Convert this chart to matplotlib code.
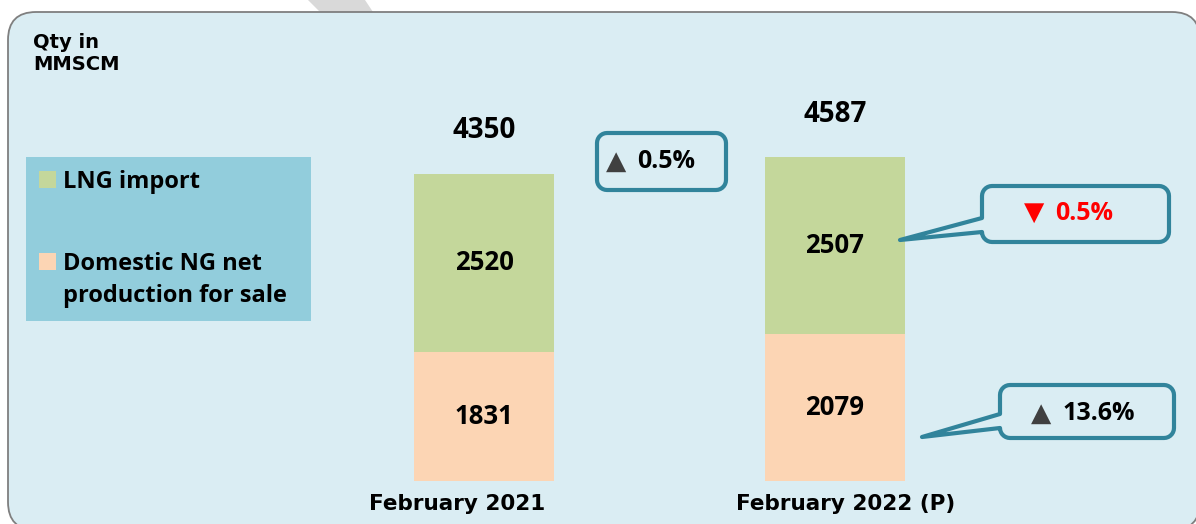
import numpy as np
import matplotlib
matplotlib.use("Agg")
import matplotlib.pyplot as plt
from matplotlib.patches import FancyBboxPatch, PathPatch, Polygon, Rectangle
from matplotlib.path import Path
from matplotlib.transforms import Affine2D

# ---------------- data ----------------
categories = ["February 2021", "February 2022 (P)"]
domestic = [1831, 2079]
lng = [2520, 2507]
totals = [4350, 4587]
series_names = ["LNG import", "Domestic NG net\nproduction for sale"]
changes = ["0.5%", "0.5%", "13.6%"]          # total, LNG, domestic
change_dir = ["up", "down", "up"]
unit_label = "Qty in\nMMSCM"

# ---------------- style ----------------
W, H = 1196, 524
GREEN = "#C4D79B"
PEACH = "#FCD5B4"
PANEL = "#DAEDF3"
LEGBG = "#92CDDC"
TEAL = "#31849B"
NUMFONT = ["Open Sans", "DejaVu Sans"]
CATFONT = ["DejaVu Sans"]

fig = plt.figure(figsize=(W / 100, H / 100), dpi=100)
fig.patch.set_facecolor("white")
px = Affine2D().scale(1 / W, -1 / H).translate(0, 1) + fig.transFigure

# decorative grey band at top
fig.patches.append(Polygon([(308, 0), (365, 0), (373, 12), (320, 12)], closed=True,
                           transform=px, facecolor="#D9D9D9", edgecolor="none", zorder=0))
# rounded panel
fig.patches.append(FancyBboxPatch((8, 12), 1192, 518, boxstyle="round,pad=0,rounding_size=28",
                                  transform=px, facecolor=PANEL, edgecolor="#7F7F7F",
                                  linewidth=1.3, zorder=1))

ax = fig.add_axes([0, 0, 1, 1])
ax.set_zorder(2)
ax.patch.set_alpha(0)
ax.set_xlim(-1.379, 2.0285)
ax.set_ylim(-609, 6813)
ax.axis("off")

x = np.arange(len(categories))
bw = 0.4
ax.bar(x, domestic, width=bw, color=PEACH, zorder=3)
ax.bar(x, lng, width=bw, bottom=domestic, color=GREEN, zorder=3)

for i in range(len(categories)):
    ax.text(x[i], domestic[i] / 2, f"{domestic[i]}", ha="center", va="center",
            fontsize=18.5, fontweight="bold", family=NUMFONT, zorder=4)
    ax.text(x[i], domestic[i] + lng[i] / 2, f"{lng[i]}", ha="center", va="center",
            fontsize=18.5, fontweight="bold", family=NUMFONT, zorder=4)
    ax.annotate(f"{totals[i]}", (x[i], domestic[i] + lng[i]), xytext=(0, 31),
                textcoords="offset points", ha="center", va="center",
                fontsize=20, fontweight="bold", family=NUMFONT, zorder=4)

cat_offsets = [-0.077, 0.031]
for i, c in enumerate(categories):
    ax.text(x[i] + cat_offsets[i], -330, c, ha="center", va="center",
            fontsize=15.5, fontweight="bold", family=CATFONT, zorder=4)

# unit label
fig.text(33, 54, unit_label, transform=px, ha="left", va="center", fontsize=14,
         fontweight="bold", family=CATFONT, linespacing=1.2, zorder=5)

# legend box
fig.patches.append(Rectangle((26, 157), 285, 164, transform=px, facecolor=LEGBG,
                             edgecolor="none", zorder=3))
fig.patches.append(Rectangle((39, 171), 17, 17, transform=px, facecolor=GREEN,
                             edgecolor="none", zorder=4))
fig.patches.append(Rectangle((39, 253), 17, 17, transform=px, facecolor=PEACH,
                             edgecolor="none", zorder=4))
legend_baselines = [[188], [270, 302]]
for name, bases in zip(series_names, legend_baselines):
    for line, yb in zip(name.split("\n"), bases):
        fig.text(63, yb, line, transform=px, ha="left", va="baseline", fontsize=17,
                 fontweight="bold", family=NUMFONT, zorder=5)


def arc(cx, cy, r, a0, a1, n=8):
    t = np.linspace(np.radians(a0), np.radians(a1), n)
    return list(zip(cx + r * np.cos(t), cy + r * np.sin(t)))


def callout(x0, y0, x1, y1, r=10, ptr=None):
    v = []
    if ptr:
        ya, yb, tx, ty = ptr
        v.append((x0, ya))
    else:
        v.append((x0, (y0 + y1) / 2))
    v += arc(x0 + r, y0 + r, r, 180, 270)
    v += arc(x1 - r, y0 + r, r, 270, 360)
    v += arc(x1 - r, y1 - r, r, 0, 90)
    v += arc(x0 + r, y1 - r, r, 90, 180)
    if ptr:
        v.append((x0, yb))
        v.append((tx, ty))
    v.append(v[0])
    codes = [Path.MOVETO] + [Path.LINETO] * (len(v) - 2) + [Path.CLOSEPOLY]
    p = PathPatch(Path(v, codes), transform=px, facecolor=PANEL, edgecolor=TEAL,
                  linewidth=3.0, joinstyle="round", zorder=6)
    fig.patches.append(p)


callout(597, 133, 726, 190, r=10)
callout(982, 186, 1169, 242, r=10, ptr=(218, 232, 900, 240))
callout(1000, 385, 1174, 438, r=10, ptr=(414, 428, 922, 437))


def change_text(xc, yc, sym, txt, color, symcolor):
    fig.text(xc, yc, sym, transform=px, ha="right", va="center", fontsize=19,
             color=symcolor, family=["DejaVu Sans"], zorder=7)
    fig.text(xc + 11, yc, txt, transform=px, ha="left", va="center", fontsize=18,
             fontweight="bold", color=color, family=NUMFONT, zorder=7)


sym = {"up": "▲", "down": "▼"}
change_text(626, 162, sym[change_dir[0]], changes[0], "black", "#404040")
change_text(1044, 213, sym[change_dir[1]], changes[1], "#FF0000", "#FF0000")
change_text(1051, 414, sym[change_dir[2]], changes[2], "black", "#404040")

fig.savefig("out.png", dpi=100, facecolor="white")
